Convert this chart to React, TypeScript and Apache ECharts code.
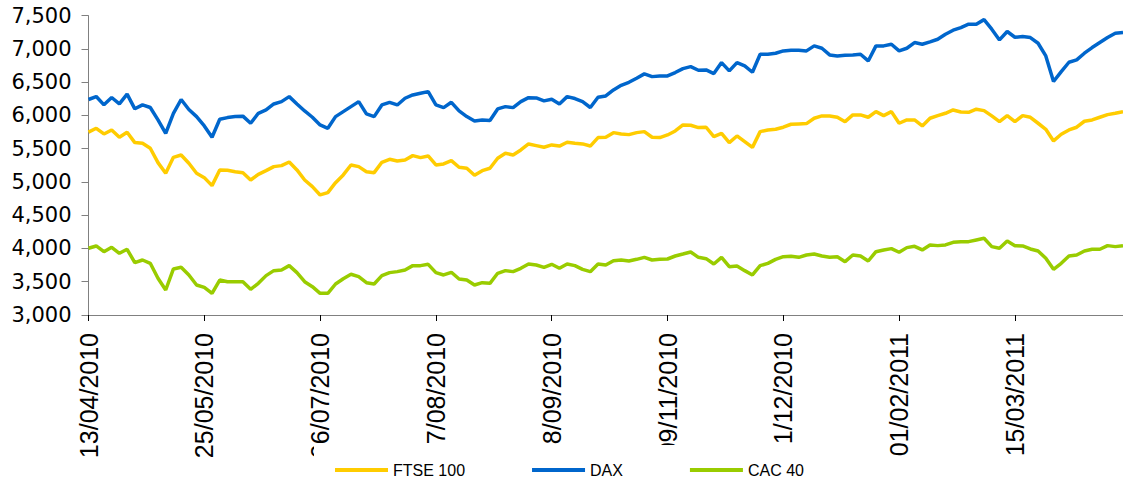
import React, { useEffect, useRef } from "react";
import * as echarts from "echarts";

const startDate = "2010-04-13";
const tickLabels = ["13/04/2010", "25/05/2010", "06/07/2010", "17/08/2010", "28/09/2010", "09/11/2010", "21/12/2010", "01/02/2011", "15/03/2011"];
const seriesNames = ["FTSE 100", "DAX", "CAC 40"];
const seriesColors = ["#FFCC00", "#0066CC", "#99CC00"];

const ftse = [
  5750, 5807, 5722, 5782, 5672, 5747, 5592, 5582, 5507, 5291,
  5131, 5371, 5406, 5281, 5131, 5065, 4945, 5181, 5176, 5155,
  5140, 5030, 5115, 5170, 5231, 5246, 5301, 5181, 5030, 4930,
  4805, 4840, 4990, 5106, 5256, 5231, 5155, 5140, 5296, 5341,
  5316, 5330, 5396, 5366, 5391, 5256, 5271, 5321, 5221, 5206,
  5101, 5170, 5206, 5356, 5431, 5406, 5482, 5572, 5547, 5522,
  5557, 5540, 5597, 5582, 5572, 5540, 5667, 5672, 5742, 5722,
  5712, 5742, 5757, 5672, 5667, 5707, 5767, 5858, 5853, 5818,
  5823, 5682, 5732, 5592, 5692, 5607, 5520, 5757, 5782, 5792,
  5823, 5868, 5873, 5878, 5958, 5993, 5993, 5973, 5907, 6008,
  6008, 5973, 6058, 5998, 6058, 5883, 5933, 5933, 5843, 5958,
  5998, 6033, 6083, 6053, 6048, 6094, 6073, 5993, 5907, 5998,
  5907, 5998, 5973, 5883, 5792, 5617, 5717, 5782, 5823, 5913,
  5933, 5973, 6013, 6033, 6058,
];

const dax = [
  6240, 6285, 6160, 6270, 6175, 6320, 6100, 6160, 6120, 5933,
  5730, 6030, 6240, 6090, 5983, 5843, 5673, 5943, 5968, 5983,
  5990, 5883, 6033, 6083, 6173, 6208, 6283, 6173, 6068, 5973,
  5858, 5807, 5983, 6058, 6133, 6208, 6023, 5983, 6158, 6198,
  6158, 6259, 6309, 6334, 6359, 6158, 6118, 6198, 6068, 5983,
  5918, 5933, 5923, 6098, 6133, 6118, 6208, 6268, 6264, 6219,
  6244, 6173, 6283, 6254, 6208, 6120, 6274, 6294, 6384, 6454,
  6499, 6560, 6625, 6584, 6594, 6594, 6645, 6705, 6735, 6680,
  6685, 6630, 6795, 6670, 6795, 6745, 6650, 6920, 6920, 6935,
  6971, 6981, 6981, 6971, 7046, 7011, 6910, 6895, 6905, 6910,
  6920, 6820, 7046, 7046, 7071, 6971, 7011, 7096, 7071, 7106,
  7146, 7222, 7282, 7322, 7372, 7372, 7441, 7297, 7136, 7262,
  7176, 7186, 7171, 7086, 6895, 6510, 6660, 6800, 6835, 6936,
  7021, 7096, 7171, 7236, 7246,
];

const cac = [
  4003, 4038, 3952, 4018, 3928, 3988, 3787, 3827, 3777, 3552,
  3376, 3692, 3717, 3602, 3451, 3416, 3326, 3526, 3501, 3501,
  3501, 3386, 3476, 3592, 3667, 3677, 3742, 3637, 3501, 3426,
  3326, 3326, 3466, 3546, 3612, 3576, 3486, 3466, 3592, 3637,
  3652, 3677, 3742, 3742, 3762, 3637, 3602, 3642, 3541, 3526,
  3451, 3486, 3476, 3627, 3667, 3652, 3702, 3767, 3752, 3717,
  3762, 3702, 3767, 3742, 3687, 3652, 3767, 3752, 3817, 3827,
  3812, 3837, 3867, 3827, 3837, 3842, 3887, 3917, 3948, 3867,
  3847, 3767, 3867, 3727, 3737, 3667, 3602, 3742, 3777, 3837,
  3877, 3882, 3867, 3902, 3917, 3887, 3867, 3877, 3802, 3902,
  3887, 3812, 3952, 3978, 3998, 3943, 4013, 4033, 3978, 4053,
  4043, 4053, 4093, 4103, 4103, 4128, 4153, 4028, 4003, 4113,
  4043, 4038, 3993, 3963, 3853, 3687, 3777, 3887, 3902, 3963,
  3988, 3988, 4043, 4028, 4043,
];

// every second business day from the start date
function buildCategories(n: number): string[] {
  const out: string[] = [];
  const d = new Date(startDate + "T12:00:00Z");
  let count = 0;
  while (out.length < n) {
    const wd = d.getUTCDay();
    if (wd !== 0 && wd !== 6) {
      if (count % 2 === 0) {
        const dd = String(d.getUTCDate()).padStart(2, "0");
        const mm = String(d.getUTCMonth() + 1).padStart(2, "0");
        out.push(`${dd}/${mm}/${d.getUTCFullYear()}`);
      }
      count++;
    }
    d.setUTCDate(d.getUTCDate() + 1);
  }
  // tick labels shown every 15 categories
  tickLabels.forEach((t, k) => {
    if (k * 15 < out.length) out[k * 15] = t;
  });
  return out;
}

export default function App() {
  const ref = useRef<HTMLDivElement>(null);
  useEffect(() => {
    if (!ref.current) return;
    const chart = echarts.init(ref.current, undefined, { renderer: "svg" });
    const categories = buildCategories(ftse.length);
    const values = [ftse, dax, cac];
    chart.setOption({
      animation: false,
      backgroundColor: "#ffffff",
      grid: { left: 88.5, right: 0, top: 15.7, bottom: 165 },
      legend: {
        data: seriesNames,
        left: 314,
        top: 445,
        padding: [17, 20, 10, 21],
        backgroundColor: "#ffffff",
        icon: "rect",
        itemWidth: 53,
        itemHeight: 4,
        itemGap: 67,
        textStyle: { fontSize: 16, fontFamily: "Liberation Sans", color: "#000" },
        z: 10,
      },
      xAxis: {
        type: "category",
        boundaryGap: false,
        data: categories,
        axisLine: { lineStyle: { color: "#808080", width: 1 } },
        axisTick: { interval: 14, length: 6, lineStyle: { color: "#000" } },
        axisLabel: {
          interval: 14,
          rotate: 90,
          fontSize: 25,
          fontFamily: "Liberation Sans",
          color: "#000",
          margin: 18,
        },
        splitLine: { show: false },
      },
      yAxis: {
        type: "value",
        min: 3000,
        max: 7500,
        interval: 500,
        axisLine: { show: true, lineStyle: { color: "#808080", width: 1 } },
        axisTick: { show: true, length: 7, lineStyle: { color: "#808080" } },
        axisLabel: {
          fontSize: 21,
          fontFamily: "DejaVu Sans",
          color: "#000",
          margin: 17,
          formatter: (v: number) => v.toLocaleString("en-US"),
        },
        splitLine: { show: false },
      },
      series: seriesNames.map((name, i) => ({
        name,
        type: "line",
        data: values[i],
        symbol: "none",
        color: seriesColors[i],
        lineStyle: { width: 3.5, color: seriesColors[i] },
      })),
    });
    return () => chart.dispose();
  }, []);
  return <div ref={ref} style={{ position: "fixed", left: 0, top: 0, width: 1123, height: 480 }} />;
}
